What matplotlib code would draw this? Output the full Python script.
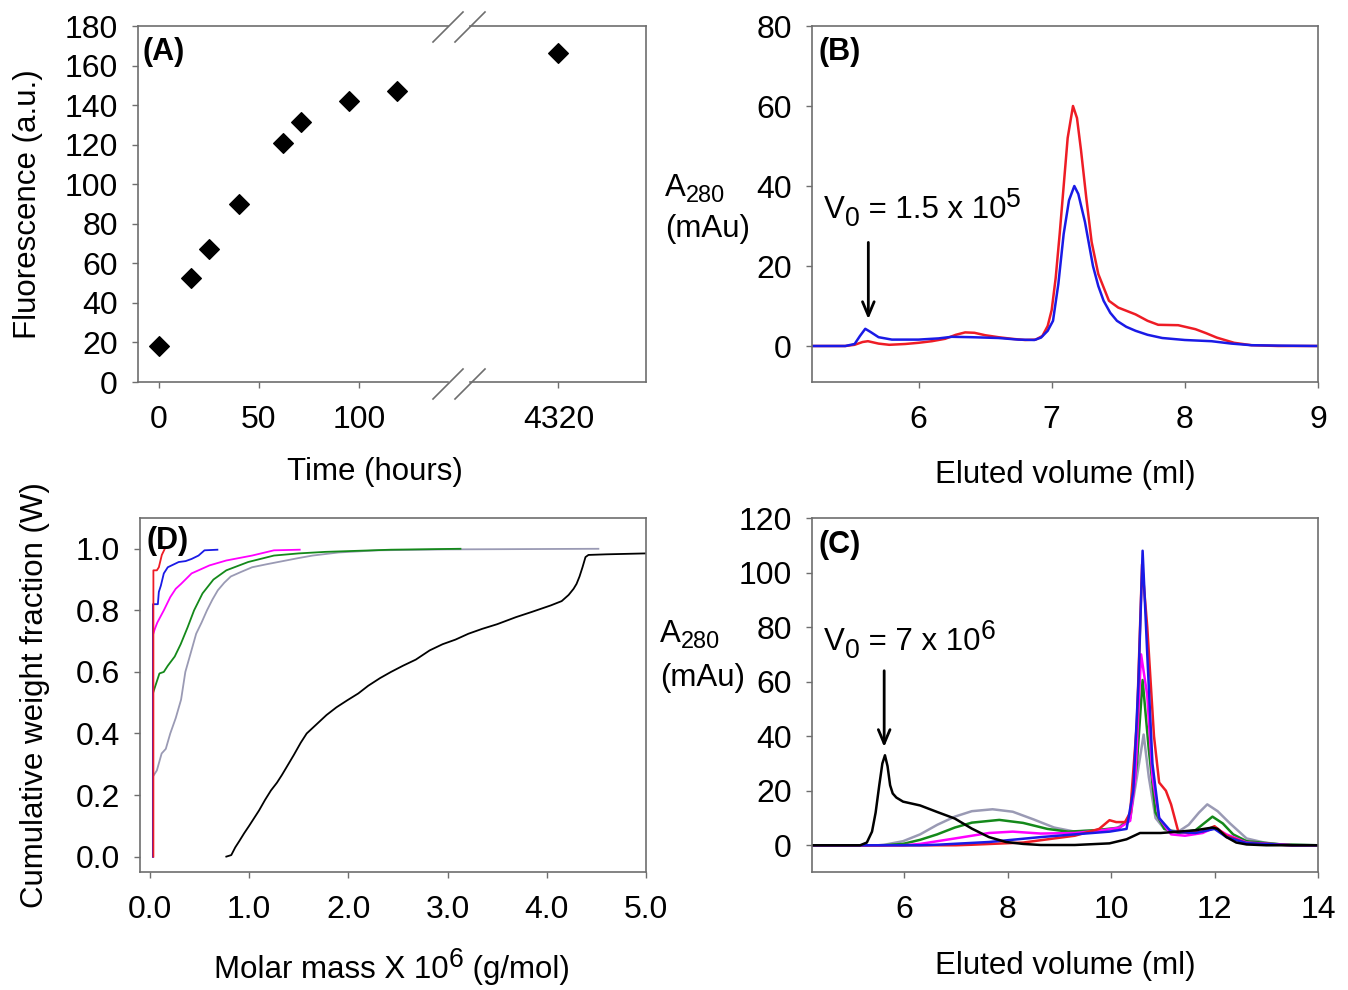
import matplotlib
matplotlib.use("Agg")
import matplotlib.pyplot as plt
from matplotlib.lines import Line2D

plt.rcParams['font.family'] = ['Liberation Sans', 'DejaVu Sans']

# ---------------- data ----------------
# Panel A: fluorescence vs time
time_hours = [0, 16, 25, 40, 62, 71, 95, 119]
fluor = [18.1, 52.5, 67.3, 90.2, 121.0, 131.7, 141.9, 147.3]
time_late = [4320]
fluor_late = [166.1]
a_xticks = [0, 50, 100]
a_xticks_late = [4320]

# Panel B: chromatograms (eluted volume ml, A280 mAu)
b_red_x = [5.2, 5.45, 5.52, 5.58, 5.62, 5.7, 5.78, 5.9, 6.0, 6.1, 6.2, 6.28, 6.35, 6.42, 6.5, 6.6, 6.7,
           6.8, 6.88, 6.93, 6.97, 7.0, 7.03, 7.06, 7.09, 7.12, 7.16, 7.19, 7.22, 7.26, 7.3, 7.35, 7.43,
           7.5, 7.63, 7.72, 7.8, 7.95, 8.08, 8.16, 8.24, 8.37, 8.5, 8.7, 9.0]
b_red_y = [0, 0, 0.3, 1.0, 1.2, 0.6, 0.3, 0.5, 0.8, 1.2, 1.8, 2.8, 3.4, 3.3, 2.7, 2.2, 1.8,
           1.5, 1.6, 2.5, 5, 9, 17, 28, 40, 52, 60, 57, 49, 37, 26, 18, 11.3,
           9.6, 7.9, 6.3, 5.3, 5.2, 4.2, 3.2, 2.1, 0.8, 0.2, 0, 0]
b_blue_x = [5.2, 5.45, 5.52, 5.56, 5.6, 5.64, 5.7, 5.8, 6.0, 6.15, 6.25, 6.4, 6.6, 6.75, 6.87, 6.92,
            6.97, 7.01, 7.05, 7.09, 7.13, 7.17, 7.2, 7.25, 7.31, 7.35, 7.39, 7.44, 7.49, 7.56, 7.63,
            7.72, 7.83, 8.0, 8.2, 8.35, 8.5, 8.7, 9.0]
b_blue_y = [0, 0, 0.5, 2.5, 4.3, 3.5, 2.2, 1.6, 1.6, 1.9, 2.3, 2.2, 2.0, 1.6, 1.5, 2.1,
            3.8, 6.3, 15.5, 28, 36.4, 40, 38, 31, 20, 15, 11.3, 8.3, 6.3, 4.8, 3.8,
            2.8, 2.0, 1.5, 1.2, 0.6, 0.2, 0.1, 0]

# Panel C: chromatograms
c_black_x = [4.2, 5.15, 5.28, 5.38, 5.45, 5.52, 5.58, 5.63, 5.68, 5.73, 5.78, 5.85, 5.98, 6.31, 6.64,
             6.98, 7.31, 7.64, 7.97, 8.3, 8.64, 9.3, 9.97, 10.3, 10.56, 10.96, 11.3, 11.63, 11.96,
             12.06, 12.23, 12.42, 12.62, 13.0, 14.0]
c_black_y = [0, 0, 1, 5, 12, 22, 30, 33, 29, 22, 19, 17.5, 16, 14.6, 12.2,
             9.8, 6.1, 3.0, 1.2, 0.5, 0.1, 0.1, 0.7, 2.2, 4.5, 4.5, 5, 5.5, 6.5,
             6, 3, 1, 0.3, 0, 0]
c_gray_x = [4.2, 5.5, 5.65, 5.98, 6.31, 6.64, 6.98, 7.31, 7.71, 8.1, 8.5, 8.9, 9.3, 9.7, 10.1, 10.37,
            10.5, 10.63, 10.73, 10.86, 11.03, 11.3, 11.5, 11.7, 11.86, 12.06, 12.3, 12.62, 12.96,
            13.29, 14.0]
c_gray_y = [0, 0, 0.3, 1.5, 4, 7.5, 10.5, 12.5, 13.2, 12.3, 9.5, 6.5, 5, 5.5, 6, 10,
            25, 40.6, 25, 10, 6, 5, 7.5, 12, 15, 12.5, 8, 2.5, 1,
            0.3, 0]
c_green_x = [4.2, 5.6, 5.98, 6.31, 6.64, 6.98, 7.31, 7.84, 8.3, 8.77, 9.17, 9.7, 10.17, 10.37, 10.5,
             10.61, 10.73, 10.86, 11.03, 11.3, 11.63, 11.96, 12.16, 12.36, 12.62, 13.29, 14.0]
c_green_y = [0, 0, 0.5, 2, 4, 6.5, 8.3, 9.3, 8.2, 6, 5, 5.5, 6.5, 10, 30,
             60.6, 35, 12, 6, 4.5, 5.5, 10.5, 8, 4, 1.5, 0.3, 0]
c_magenta_x = [4.2, 6.0, 6.31, 6.98, 7.64, 8.1, 8.64, 9.3, 9.83, 10.17, 10.37, 10.47, 10.58, 10.7,
               10.8, 10.93, 11.16, 11.43, 11.77, 12.0, 12.23, 12.62, 13.5, 14.0]
c_magenta_y = [0, 0, 0.5, 2.5, 4.5, 5, 4.3, 4.5, 5.5, 6.5, 9, 25, 70, 55,
               25, 10, 4, 3.5, 4.5, 6.5, 4, 1, 0, 0]
c_blue_x = [4.2, 6.3, 6.64, 7.64, 8.64, 9.3, 9.97, 10.3, 10.43, 10.53, 10.61, 10.7, 10.8, 10.93,
            11.16, 11.63, 12.0, 12.23, 12.62, 13.5, 14.0]
c_blue_y = [0, 0, 0.2, 1.2, 3, 4, 5, 6, 20, 60, 108, 70, 30, 10,
            5, 4.5, 6, 3, 0.8, 0, 0]
c_red_x = [4.2, 7.0, 7.31, 8.3, 9.3, 9.77, 9.97, 10.1, 10.27, 10.37, 10.5, 10.6, 10.7, 10.83, 10.93,
           11.06, 11.16, 11.3, 11.5, 11.77, 12.0, 12.23, 12.62, 13.5, 14.0]
c_red_y = [0, 0, 0.2, 1, 3.5, 6, 9.2, 8.5, 8.5, 12, 45, 103, 80, 40, 23,
           20, 15, 5, 4.5, 5, 7, 3.5, 0.8, 0, 0]

# Panel D: cumulative weight fraction vs molar mass (x 10^6 g/mol)
d_red_x = [0.035, 0.035, 0.07, 0.09, 0.12, 0.15]
d_red_y = [0.0, 0.93, 0.93, 0.94, 0.98, 1.0]
d_blue_x = [0.03, 0.03, 0.08, 0.09, 0.11, 0.14, 0.18, 0.29, 0.36, 0.42, 0.49, 0.55, 0.68]
d_blue_y = [0.0, 0.82, 0.82, 0.86, 0.88, 0.92, 0.94, 0.957, 0.96, 0.967, 0.978, 0.995, 0.997]
d_magenta_x = [0.03, 0.03, 0.05, 0.074, 0.14, 0.205, 0.26, 0.314, 0.42, 0.6, 0.77, 1.03, 1.25, 1.51]
d_magenta_y = [0.0, 0.72, 0.74, 0.76, 0.8, 0.843, 0.87, 0.886, 0.92, 0.946, 0.962, 0.978, 0.995, 0.997]
d_green_x = [0.03, 0.03, 0.05, 0.096, 0.14, 0.18, 0.25, 0.31, 0.38, 0.445, 0.53, 0.64, 0.77, 0.99,
             1.25, 1.5, 1.77, 2.43, 3.13]
d_green_y = [0.0, 0.53, 0.55, 0.595, 0.6, 0.62, 0.65, 0.69, 0.745, 0.8, 0.855, 0.9, 0.93, 0.957,
             0.978, 0.985, 0.99, 0.997, 1.0]
d_gray_x = [0.03, 0.03, 0.07, 0.118, 0.16, 0.205, 0.26, 0.314, 0.357, 0.41, 0.466, 0.52, 0.575, 0.63,
            0.684, 0.75, 0.815, 0.92, 1.03, 1.18, 1.34, 1.5, 1.64, 1.9, 2.3, 3.0, 4.52]
d_gray_y = [0.0, 0.26, 0.28, 0.335, 0.35, 0.4, 0.45, 0.51, 0.6, 0.66, 0.724, 0.76, 0.8, 0.835,
            0.865, 0.89, 0.91, 0.925, 0.94, 0.95, 0.96, 0.97, 0.978, 0.988, 0.995, 0.998, 1.0]
d_black_x = [0.77, 0.82, 0.86, 0.9, 0.95, 1.0, 1.05, 1.1, 1.16, 1.22, 1.28, 1.33, 1.38, 1.45, 1.52,
             1.58, 1.68, 1.78, 1.88, 1.99, 2.1, 2.2, 2.32, 2.43, 2.55, 2.68, 2.82, 2.95, 3.08, 3.21,
             3.35, 3.5, 3.69, 3.85, 4.04, 4.15, 4.22, 4.27, 4.3, 4.33, 4.36, 4.39, 4.42, 4.6, 5.0]
d_black_y = [0.0, 0.005, 0.03, 0.05, 0.076, 0.1, 0.125, 0.15, 0.184, 0.215, 0.24, 0.265, 0.292, 0.33,
             0.37, 0.4, 0.43, 0.46, 0.485, 0.508, 0.53, 0.555, 0.58, 0.6, 0.62, 0.64, 0.67, 0.69,
             0.705, 0.724, 0.74, 0.755, 0.778, 0.795, 0.816, 0.83, 0.85, 0.87, 0.886, 0.91, 0.94,
             0.973, 0.98, 0.982, 0.985]

# ---------------- style ----------------
W, H = 1348, 990
SPINE = '#6e6e6e'
FS = 23      # tick labels
LFS = 22.5   # axis labels / annotations
PFS = 22     # panel letters
RED = '#ee1c25'
BLUE = '#1a1ae6'
MAGENTA = '#ff00ff'
GREEN = '#14891a'
GRAY = '#9a9ab4'

fig = plt.figure(figsize=(W / 100, H / 100), dpi=100)
renderer = fig.canvas.get_renderer()


def rect(l, t, r, b):
    return [l / W, 1 - b / H, (r - l) / W, (b - t) / H]


def style(ax):
    for s in ax.spines.values():
        s.set_color(SPINE)
        s.set_linewidth(1.2)
    ax.tick_params(direction='out', length=4.5, width=1.0, color=SPINE, labelsize=FS)
    ax.tick_params(axis='x', pad=12)
    ax.tick_params(axis='y', pad=10)


def px(x, y):
    return (x / W, 1 - y / H)


def rich_text(x_px, y_px, parts, ha='left'):
    """Draw text pieces on a common baseline (pixel coords, y from top).
    parts: list of (string, fontsize, dy_px) with dy_px > 0 raising the piece."""
    arts = []
    cur = x_px
    for s, fs, dy in parts:
        t = fig.text(cur / W, 1 - (y_px - dy) / H, s, fontsize=fs, ha='left', va='baseline')
        bb = t.get_window_extent(renderer)
        arts.append((t, cur, dy))
        cur += bb.width
    if ha == 'center':
        shift = (cur - x_px) / 2
        for t, x0, dy in arts:
            t.set_x((x0 - shift) / W)


SUB = 0.85 * LFS

# ---------------- Panel A ----------------
axA1 = fig.add_axes(rect(138, 26, 448, 382))
axA2 = fig.add_axes(rect(470, 26, 646, 382))
for ax in (axA1, axA2):
    style(ax)
    ax.set_ylim(0, 180)
axA1.scatter(time_hours, fluor, marker='D', s=100, color='black', zorder=3, clip_on=False)
axA2.scatter(time_late, fluor_late, marker='D', s=100, color='black', zorder=3, clip_on=False)
axA1.set_xlim(-10.4, 144.6)
axA2.set_xlim(4275.8, 4363.8)
axA1.set_xticks(a_xticks)
axA2.set_xticks(a_xticks_late)
axA1.set_yticks(range(0, 181, 20))
axA1.spines['right'].set_visible(False)
axA2.spines['left'].set_visible(False)
axA2.tick_params(axis='y', left=False, labelleft=False)
axA1.text(0.014, 0.927, '(A)', transform=axA1.transAxes, fontsize=PFS, fontweight='bold',
          va='center', ha='left')

# break marks
for cx in (448, 470):
    for cy in (27, 384):
        x0, y0 = px(cx - 15, cy + 15)
        x1, y1 = px(cx + 15, cy - 15)
        fig.add_artist(Line2D([x0, x1], [y0, y1], color=SPINE, lw=1.2))

fig.text(*px(28, 204), 'Fluorescence (a.u.)', rotation=90, ha='center', va='center', fontsize=LFS)
fig.text(*px(375, 472), 'Time (hours)', ha='center', va='center', fontsize=LFS)

ARROW = dict(arrowstyle='->,head_length=1.0,head_width=0.42', lw=2.0, color='black',
             shrinkA=0, shrinkB=0)

# ---------------- Panel B ----------------
axB = fig.add_axes(rect(812, 26, 1318, 382))
style(axB)
axB.plot(b_red_x, b_red_y, color=RED, lw=1.8)
axB.plot(b_blue_x, b_blue_y, color=BLUE, lw=1.8)
axB.set_xlim(5.2, 9.0)
axB.set_ylim(-9, 80)
axB.set_xticks([6, 7, 8, 9])
axB.set_yticks([0, 20, 40, 60, 80])
axB.text(0.012, 0.927, '(B)', transform=axB.transAxes, fontsize=PFS, fontweight='bold',
         va='center', ha='left')
axB.annotate('', xy=(5.623, 6.7), xytext=(5.623, 25.9), arrowprops=ARROW)
rich_text(824, 218, [('V', LFS, 0), ('0', SUB, -8), (' = 1.5 x 10', LFS, 0), ('5', SUB, 11)])
rich_text(665, 196, [('A', LFS, 0), ('280', 0.75 * LFS, -6)])
fig.text(*px(665, 229), '(mAu)', ha='left', va='center', fontsize=LFS)
fig.text(*px(1065, 475), 'Eluted volume (ml)', ha='center', va='center', fontsize=LFS)

# ---------------- Panel C ----------------
axC = fig.add_axes(rect(812, 518, 1318, 872))
style(axC)
axC.plot(c_gray_x, c_gray_y, color=GRAY, lw=1.8)
axC.plot(c_green_x, c_green_y, color=GREEN, lw=1.8)
axC.plot(c_magenta_x, c_magenta_y, color=MAGENTA, lw=1.8)
axC.plot(c_red_x, c_red_y, color=RED, lw=1.8)
axC.plot(c_blue_x, c_blue_y, color=BLUE, lw=1.8)
axC.plot(c_black_x, c_black_y, color='black', lw=1.8)
axC.set_xlim(4.22, 14.0)
axC.set_ylim(-9.8, 120)
axC.set_xticks([6, 8, 10, 12, 14])
axC.set_yticks(range(0, 121, 20))
axC.text(0.012, 0.924, '(C)', transform=axC.transAxes, fontsize=PFS, fontweight='bold',
         va='center', ha='left')
axC.annotate('', xy=(5.615, 36), xytext=(5.615, 64), arrowprops=ARROW)
rich_text(824, 650, [('V', LFS, 0), ('0', SUB, -8), (' = 7 x 10', LFS, 0), ('6', SUB, 11)])
rich_text(660, 642, [('A', LFS, 0), ('280', 0.75 * LFS, -6)])
fig.text(*px(660, 678), '(mAu)', ha='left', va='center', fontsize=LFS)
fig.text(*px(1065, 966), 'Eluted volume (ml)', ha='center', va='center', fontsize=LFS)

# ---------------- Panel D ----------------
axD = fig.add_axes(rect(140, 518, 646, 872))
style(axD)
axD.plot(d_gray_x, d_gray_y, color=GRAY, lw=1.3)
axD.plot(d_green_x, d_green_y, color=GREEN, lw=1.3)
axD.plot(d_magenta_x, d_magenta_y, color=MAGENTA, lw=1.3)
axD.plot(d_blue_x, d_blue_y, color=BLUE, lw=1.3)
axD.plot(d_red_x, d_red_y, color=RED, lw=1.3)
axD.plot(d_black_x, d_black_y, color='black', lw=1.3)
axD.set_xlim(-0.1, 5.0)
axD.set_ylim(-0.05, 1.1)
axD.set_xticks([0, 1, 2, 3, 4, 5])
axD.set_xticklabels(['0.0', '1.0', '2.0', '3.0', '4.0', '5.0'])
axD.set_yticks([0, 0.2, 0.4, 0.6, 0.8, 1.0])
axD.set_yticklabels(['0.0', '0.2', '0.4', '0.6', '0.8', '1.0'])
axD.text(0.012, 0.935, '(D)', transform=axD.transAxes, fontsize=PFS, fontweight='bold',
         va='center', ha='left')
fig.text(*px(35, 695), 'Cumulative weight fraction (W)', rotation=90, ha='center', va='center',
         fontsize=LFS)
rich_text(392, 978, [('Molar mass X 10', LFS, 0), ('6', SUB, 11), (' (g/mol)', LFS, 0)],
          ha='center')

fig.savefig('out.png', dpi=100)
